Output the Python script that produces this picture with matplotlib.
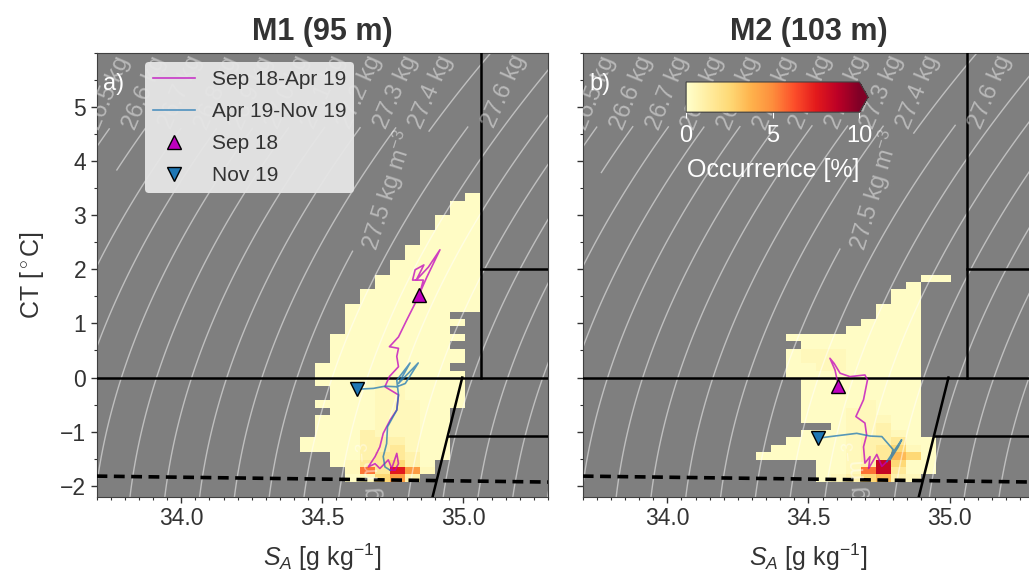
import numpy as np
import matplotlib.pyplot as plt

plt.rcParams['font.family'] = ['Liberation Sans', 'DejaVu Sans']
plt.rcParams['mathtext.fontset'] = 'custom'
plt.rcParams['mathtext.rm'] = 'Liberation Sans'
plt.rcParams['mathtext.it'] = 'Liberation Sans:italic'
plt.rcParams['text.color'] = '0.2'
plt.rcParams['axes.labelcolor'] = '0.2'
plt.rcParams['xtick.color'] = '0.2'
plt.rcParams['ytick.color'] = '0.2'

# axis ranges
sa_lim = (33.7, 35.3)
ct_lim = (-2.2, 6.0)

# histogram bins (absolute salinity, conservative temperature)
sa_edges = np.linspace(33.675, 35.325, 32)
ct_edges = np.linspace(-2.2, 6.0, 61)

# occurrence levels [%] used in the grids below
occ_levels = {'.': 0, 'a': 0.2, 'b': 0.5, 'c': 0.9, 'd': 1.5, 'e': 2.5,
              'f': 3.5, 'g': 4.5, 'h': 5.5, 'i': 6.5, 'j': 7.5, 'k': 8.5}

# M1 occurrence, rows from CT bin 40 downwards, columns from SA bin 13
m1_top, m1_k0 = 40, 13
m1_grid = [
    '............a',
    '...........aa',
    '...........aa',
    '..........aaa',
    '..........aaa',
    '.........aaaa',
    '.........aaaa',
    '........aaaaa',
    '........aaaaa',
    '.......aaaaaa',
    '.......aaaaaa',
    '......aaaaaaa',
    '......aaaaaaa',
    '.....aaaaaaaa',
    '.....aaaaaaaa',
    '....aaaaaaaaa',
    '....aaaaaaa..',
    '....aaaaaaaa.',
    '....aaaaaaa..',
    '...aaaaaaaaa.',
    '...aaaaaaaa..',
    '...aaaaaaaaa.',
    '...aaaaaaaaa.',
    '..aaaaaaaaa..',
    '..aaaaaaaaaa.',
    '..aaaabbaaaa.',
    '...aaabbaaaa.',
    '...aaabbaaaa.',
    '..aaaabbbaaa.',
    '...aaabbbaa..',
    '..aaaabbbaa..',
    '..aaaabbbaa..',
    '..aaacbbbaa..',
    '.aaaacccbaa..',
    '.aaaaccdbaa..',
    '...aacddcaa..',
    '...abddeca...',
    '....bhdjgb...',
    '....abegc....',
]

# M2 occurrence, rows from CT bin 29 downwards, columns from SA bin 12
m2_top, m2_k0 = 29, 12
m2_grid = [
    '...........aa',
    '..........a..',
    '.........aa..',
    '.........aa..',
    '........aaa..',
    '........aaa..',
    '.......aaaa..',
    '......aaaaa..',
    '..aaaaaaaaa..',
    '...aaaaaaaa..',
    '..abbbaaaaa..',
    '..abbbaaaaa..',
    '..aabbaaaaa..',
    '..aaaaaaaaa..',
    '...aaaaaaaa..',
    '...aaaaaaaa..',
    '...aaaaaaaa..',
    '...aaaabaaa..',
    '...aaabbaaa..',
    '...aaabbbaa..',
    '.....abbcaa..',
    '...aaabbcba..',
    '..aaaabccdaa.',
    '.aaaaabcdeba.',
    'aaaaaabcdfea.',
    '....aabckeaa.',
    '....aabhkdaa.',
    '....abcefcb..',
]

# water mass boundaries (SA, CT)
boundaries = [
    ([35.062, 35.062], [0.0, 6.0]),
    ([35.062, 35.3], [2.0, 2.0]),
    ([33.7, 35.3], [0.0, 0.0]),
    ([34.996, 34.891], [0.0, -2.2]),
    ([34.944, 35.3], [-1.08, -1.08]),
]
freezing_sa = [33.7, 35.3]
freezing_ct = [-1.82, -1.93]

# M1 trajectories
m1_p1_sa = [34.844, 34.858, 34.820, 34.829, 34.860, 34.833, 34.876, 34.917,
            34.870, 34.848, 34.829, 34.799, 34.770, 34.738, 34.770, 34.764,
            34.770, 34.738, 34.722, 34.770, 34.764, 34.741, 34.716, 34.704,
            34.687, 34.663, 34.687, 34.704, 34.734, 34.746, 34.764, 34.770,
            34.758, 34.740]
m1_p1_ct = [1.525, 1.80, 1.80, 1.99, 2.08, 1.80, 2.04, 2.36,
            1.85, 1.59, 1.37, 1.06, 0.75, 0.57, 0.54, 0.39,
            0.20, 0.02, -0.17, -0.32, -0.60, -0.78, -1.03, -1.28,
            -1.46, -1.65, -1.59, -1.68, -1.52, -1.68, -1.40, -1.59,
            -1.71, -1.71]
m1_p2_sa = [34.740, 34.722, 34.716, 34.728, 34.731, 34.764, 34.770, 34.764,
            34.811, 34.770, 34.840, 34.794, 34.764, 34.722, 34.681, 34.622]
m1_p2_ct = [-1.71, -1.65, -1.46, -1.22, -0.91, -0.60, -0.32, -0.05,
            0.27, -0.11, 0.27, -0.11, -0.17, -0.16, -0.20, -0.216]

# M2 trajectories
m2_p1_sa = [34.606, 34.594, 34.576, 34.591, 34.612, 34.647, 34.700, 34.709,
            34.695, 34.668, 34.700, 34.706, 34.695, 34.700, 34.718, 34.713,
            34.742, 34.760, 34.778]
m2_p1_ct = [-0.155, 0.14, 0.356, 0.26, 0.08, 0.017, 0.048, -0.045,
            -0.41, -0.72, -0.84, -1.06, -1.28, -1.58, -1.46, -1.68,
            -1.42, -1.64, -1.55]
m2_p2_sa = [34.778, 34.830, 34.818, 34.789, 34.800, 34.760, 34.718, 34.671,
            34.624, 34.577, 34.533]
m2_p2_ct = [-1.55, -1.15, -1.28, -1.52, -1.33, -1.09, -1.08, -1.03,
            -1.06, -1.09, -1.12]

# isopycnal label positions (SA, CT)
label_pos = [(33.77, 5.64), (33.90, 5.64), (34.03, 5.64), (34.155, 5.64), (34.28, 5.64),
             (34.41, 5.64), (34.54, 5.64), (34.67, 5.64), (34.795, 5.64), (34.92, 5.64),
             (35.18, 5.64), (34.74, 3.45), (33.685, 2.6), (34.66, -2.3)]


def sigma0(sa, ct):
    # EOS-80 density at the surface, sigma units
    s = sa * 35.0 / 35.16504
    t = ct
    rho_w = (999.842594 + 6.793952e-2 * t - 9.095290e-3 * t ** 2
             + 1.001685e-4 * t ** 3 - 1.120083e-6 * t ** 4 + 6.536332e-9 * t ** 5)
    a = 8.24493e-1 - 4.0899e-3 * t + 7.6438e-5 * t ** 2 - 8.2467e-7 * t ** 3 + 5.3875e-9 * t ** 4
    b = -5.72466e-3 + 1.0227e-4 * t - 1.6546e-6 * t ** 2
    return rho_w + a * s + b * s ** 1.5 + 4.8314e-4 * s ** 2 - 1000.0


def build_grid(rows, top, k0):
    vals = np.zeros((len(ct_edges) - 1, len(sa_edges) - 1))
    for i, line in enumerate(rows):
        for j, ch in enumerate(line):
            vals[top - i, k0 + j] = occ_levels[ch]
    return np.ma.masked_equal(vals, 0)


fig = plt.figure(figsize=(10.29, 5.75), dpi=100)
ax1 = fig.add_axes([0.0938, 0.1362, 0.4388, 0.7722])
ax2 = fig.add_axes([0.5663, 0.1362, 0.4388, 0.7722], sharey=ax1)

SA, CT = np.meshgrid(np.linspace(33.6, 35.4, 300), np.linspace(-2.4, 6.2, 300))
dens = sigma0(SA, CT)
dens_levels = np.round(np.arange(26.0, 28.35, 0.1), 1)

panels = [
    (ax1, 'M1 (95 m)', 'a)', m1_grid, m1_top, m1_k0, m1_p1_sa, m1_p1_ct, m1_p2_sa, m1_p2_ct),
    (ax2, 'M2 (103 m)', 'b)', m2_grid, m2_top, m2_k0, m2_p1_sa, m2_p1_ct, m2_p2_sa, m2_p2_ct),
]

for ax, title, tag, grid, top, k0, p1_sa, p1_ct, p2_sa, p2_ct in panels:
    ax.set_facecolor('#7f7f7f')
    occ = build_grid(grid, top, k0)
    mesh = ax.pcolormesh(sa_edges, ct_edges, occ, cmap='YlOrRd', vmin=0, vmax=10, zorder=1)

    cs = ax.contour(SA, CT, dens, levels=dens_levels, colors='white', alpha=0.5,
                    linewidths=1.0, zorder=2)
    texts = ax.clabel(cs, fmt='%.1f kg m$^{-3}$', fontsize=17, inline=True,
                      inline_spacing=4, manual=label_pos)
    for t in texts:
        t.set_rotation(t.get_rotation() + 13)
        t.set_alpha(0.45)
        t.set_clip_on(True)

    for bx, by in boundaries:
        ax.plot(bx, by, color='black', lw=1.8, zorder=3)
    ax.plot(freezing_sa, freezing_ct, color='black', lw=2.6, ls=(0, (3, 1.8)), zorder=3)

    ax.plot(p1_sa, p1_ct, color='m', lw=1.2, alpha=0.75, zorder=4, label='Sep 18-Apr 19')
    ax.plot(p2_sa, p2_ct, color='tab:blue', lw=1.2, alpha=0.75, zorder=4, label='Apr 19-Nov 19')
    ax.plot(p1_sa[0], p1_ct[0], marker='^', ms=9.5, mfc='m', mec='black', mew=1.0,
            ls='none', zorder=5, label='Sep 18')
    ax.plot(p2_sa[-1], p2_ct[-1], marker='v', ms=9.5, mfc='tab:blue', mec='black', mew=1.0,
            ls='none', zorder=5, label='Nov 19')

    ax.set_xlim(sa_lim)
    ax.set_ylim(ct_lim)
    ax.set_xticks([34.0, 34.5, 35.0])
    ax.set_xticks(np.arange(33.7, 35.31, 0.05), minor=True)
    ax.set_yticks(np.arange(-2, 6, 1))
    ax.set_yticks(np.arange(-2, 6.01, 0.5), minor=True)
    ax.tick_params(which='major', length=4, width=1, labelsize=16.5)
    ax.tick_params(which='minor', length=2.5, width=0.8)
    for sp in ax.spines.values():
        sp.set_color('0.25')
    ax.set_title(title, fontsize=22, fontweight='bold', color='0.2', pad=9)
    ax.set_xlabel('$S_A$ [g kg$^{-1}$]', fontsize=18, labelpad=8)
    ax.text(0.015, 0.915, tag, transform=ax.transAxes, color='white', fontsize=17)

ax1.set_ylabel(r'CT [$^\circ$C]', fontsize=18, labelpad=10)
plt.setp(ax2.get_yticklabels(), visible=False)

ax1.legend(loc='upper left', bbox_to_anchor=(0.107, 0.979), borderaxespad=0,
           fontsize=15, facecolor='#e6e6e6', framealpha=0.95, edgecolor='none',
           handlelength=2.0, labelspacing=0.62)

cax = ax2.inset_axes([0.229, 0.866, 0.403, 0.068])
cb = fig.colorbar(mesh, cax=cax, orientation='horizontal', extend='max', extendfrac=0.05)
cb.set_ticks([0, 5, 10])
cb.ax.tick_params(colors='white', labelsize=17, length=4, pad=5)
cb.outline.set_edgecolor('0.25')
cb.set_label('Occurrence [%]', color='white', fontsize=18, labelpad=8)

fig.savefig('out.png', dpi=100)
